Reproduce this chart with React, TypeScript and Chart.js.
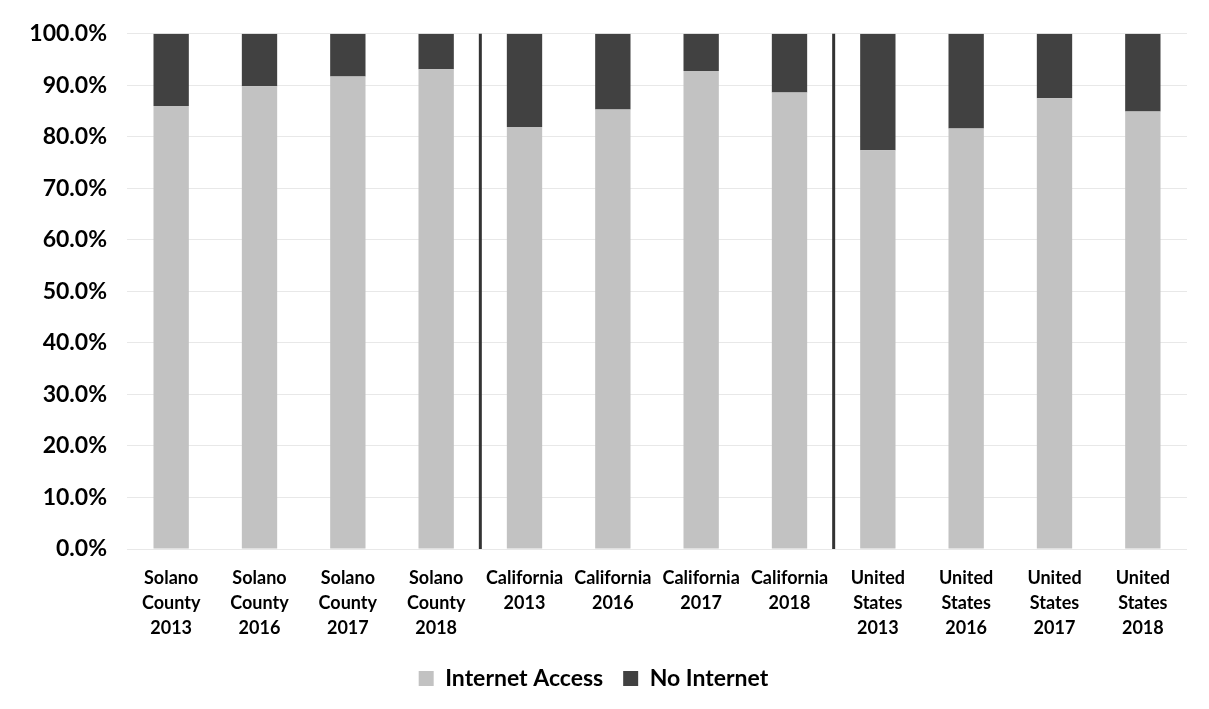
import React, { useEffect, useRef } from "react";
import { Chart, registerables } from "chart.js";

Chart.register(...registerables);

const categories: string[][] = [
  ["Solano", "County", "2013"],
  ["Solano", "County", "2016"],
  ["Solano", "County", "2017"],
  ["Solano", "County", "2018"],
  ["California", "2013"],
  ["California", "2016"],
  ["California", "2017"],
  ["California", "2018"],
  ["United", "States", "2013"],
  ["United", "States", "2016"],
  ["United", "States", "2017"],
  ["United", "States", "2018"],
];

const internetAccess = [86.0, 89.8, 91.7, 93.1, 81.9, 85.3, 92.8, 88.6, 77.4, 81.6, 87.5, 84.9];
const noInternet = internetAccess.map((v) => +(100 - v).toFixed(1));

const separatorsAfter = [3, 7];

const FONT = "Lato, 'Open Sans', 'DejaVu Sans', sans-serif";

const separatorPlugin = {
  id: "separators",
  afterDatasetsDraw(chart: any) {
    const { ctx, chartArea, scales } = chart;
    const x = scales.x;
    ctx.save();
    ctx.strokeStyle = "#333333";
    ctx.lineWidth = 3;
    separatorsAfter.forEach((i) => {
      const px = (x.getPixelForValue(i) + x.getPixelForValue(i + 1)) / 2;
      ctx.beginPath();
      ctx.moveTo(px, chartArea.top);
      ctx.lineTo(px, chartArea.bottom);
      ctx.stroke();
    });
    ctx.restore();
  },
};

export default function App() {
  const ref = useRef<HTMLCanvasElement | null>(null);
  useEffect(() => {
    document.body.style.margin = "0";
    const chart = new Chart(ref.current as HTMLCanvasElement, {
      type: "bar",
      data: {
        labels: categories,
        datasets: [
          {
            label: "Internet Access",
            data: internetAccess,
            backgroundColor: "#c2c2c2",
            categoryPercentage: 1,
            barPercentage: 0.4,
          },
          {
            label: "No Internet",
            data: noInternet,
            backgroundColor: "#414141",
            categoryPercentage: 1,
            barPercentage: 0.4,
          },
        ],
      },
      options: {
        animation: false,
        responsive: false,
        maintainAspectRatio: false,
        layout: { padding: { top: 24, right: 22, bottom: 9, left: 0 } },
        plugins: {
          legend: {
            position: "bottom",
            labels: {
              boxWidth: 15,
              boxHeight: 15,
              padding: 20,
              color: "#000",
              font: { family: FONT, size: 23, weight: "bold" },
            },
          },
          tooltip: { enabled: false },
        },
        scales: {
          x: {
            stacked: true,
            grid: { display: false },
            border: { display: false },
            afterFit: (s: any) => {
              s.height = 98;
            },
            ticks: {
              color: "#000",
              maxRotation: 0,
              autoSkip: false,
              padding: 9,
              font: { family: FONT, size: 18, weight: "bold", lineHeight: 1.39 },
            },
          },
          y: {
            stacked: true,
            min: 0,
            max: 100,
            afterFit: (s: any) => {
              s.width = 127;
            },
            grid: { color: "#e8e8e8", drawTicks: false },
            border: { display: false },
            ticks: {
              stepSize: 10,
              padding: 20,
              color: "#000",
              font: { family: FONT, size: 23, weight: "bold" },
              callback: (v: any) => Number(v).toFixed(1) + "%",
            },
          },
        },
      },
      plugins: [separatorPlugin],
    } as any);
    return () => chart.destroy();
  }, []);
  return (
    <div style={{ width: 1209, height: 709, background: "#fff" }}>
      <canvas ref={ref} width={1209} height={709} />
    </div>
  );
}
